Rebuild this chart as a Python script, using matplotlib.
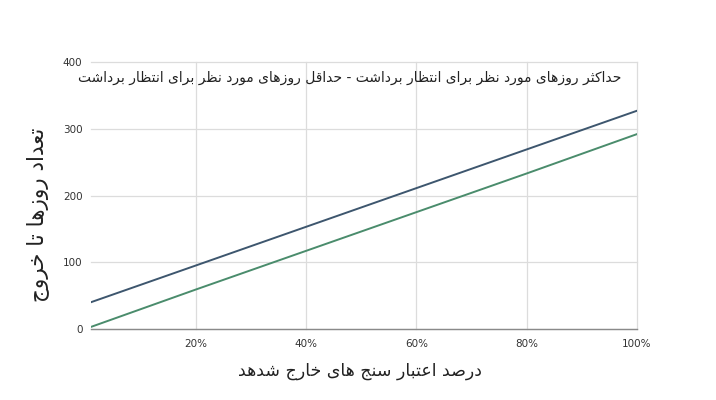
import matplotlib
matplotlib.use("Agg")
import matplotlib.pyplot as plt

# values (percent of exited validators -> days)
pct = [1, 20, 40, 60, 80, 100]
max_days = [40, 95, 153, 211, 269, 327]
min_days = [3, 59, 117, 175, 233, 292]
x_ticks = [20, 40, 60, 80, 100]
x_tick_labels = ["20%", "40%", "60%", "80%", "100%"]
y_ticks = [0, 100, 200, 300, 400]

title_text = "حداکثر روزهای مورد نظر برای انتظار برداشت - حداقل روزهای مورد نظر برای انتظار برداشت"
y_label = "تعداد روزها تا خروج"
x_label = "درصد اعتبار سنج های خارج شدهد"

# ── minimal Persian shaping: contextual forms + right-to-left order ──────────
# letter: (isolated, final, initial, medial); two entries = joins on right only
FORMS = {
    "ا": (0xFE8D, 0xFE8E), "د": (0xFEA9, 0xFEAA), "ذ": (0xFEAB, 0xFEAC),
    "ر": (0xFEAD, 0xFEAE), "ز": (0xFEAF, 0xFEB0), "ژ": (0xFB8A, 0xFB8B),
    "و": (0xFEED, 0xFEEE),
    "ب": (0xFE8F, 0xFE90, 0xFE91, 0xFE92), "پ": (0xFB56, 0xFB57, 0xFB58, 0xFB59),
    "ت": (0xFE95, 0xFE96, 0xFE97, 0xFE98), "ث": (0xFE99, 0xFE9A, 0xFE9B, 0xFE9C),
    "ج": (0xFE9D, 0xFE9E, 0xFE9F, 0xFEA0), "چ": (0xFB7A, 0xFB7B, 0xFB7C, 0xFB7D),
    "ح": (0xFEA1, 0xFEA2, 0xFEA3, 0xFEA4), "خ": (0xFEA5, 0xFEA6, 0xFEA7, 0xFEA8),
    "س": (0xFEB1, 0xFEB2, 0xFEB3, 0xFEB4), "ش": (0xFEB5, 0xFEB6, 0xFEB7, 0xFEB8),
    "ص": (0xFEB9, 0xFEBA, 0xFEBB, 0xFEBC), "ض": (0xFEBD, 0xFEBE, 0xFEBF, 0xFEC0),
    "ط": (0xFEC1, 0xFEC2, 0xFEC3, 0xFEC4), "ظ": (0xFEC5, 0xFEC6, 0xFEC7, 0xFEC8),
    "ع": (0xFEC9, 0xFECA, 0xFECB, 0xFECC), "غ": (0xFECD, 0xFECE, 0xFECF, 0xFED0),
    "ف": (0xFED1, 0xFED2, 0xFED3, 0xFED4), "ق": (0xFED5, 0xFED6, 0xFED7, 0xFED8),
    "ک": (0xFB8E, 0xFB8F, 0xFB90, 0xFB91), "گ": (0xFB92, 0xFB93, 0xFB94, 0xFB95),
    "ل": (0xFEDD, 0xFEDE, 0xFEDF, 0xFEE0), "م": (0xFEE1, 0xFEE2, 0xFEE3, 0xFEE4),
    "ن": (0xFEE5, 0xFEE6, 0xFEE7, 0xFEE8), "ه": (0xFEE9, 0xFEEA, 0xFEEB, 0xFEEC),
    "ی": (0xFBFC, 0xFBFD, 0xFBFE, 0xFBFF),
}


def shape(text):
    out = []
    n = len(text)
    for i, ch in enumerate(text):
        f = FORMS.get(ch)
        if f is None:
            out.append(ch)
            continue
        prev = text[i - 1] if i > 0 else ""
        nxt = text[i + 1] if i < n - 1 else ""
        join_prev = prev in FORMS and len(FORMS[prev]) == 4
        join_next = nxt in FORMS and len(f) == 4
        if join_prev and join_next:
            code = f[3]
        elif join_prev:
            code = f[1]
        elif join_next:
            code = f[2]
        else:
            code = f[0]
        out.append(chr(code))
    return "".join(reversed(out))


plt.rcParams["font.family"] = ["DejaVu Sans"]

fig = plt.figure(figsize=(7.16, 4.0), dpi=100)
ax = fig.add_axes([0.1267, 0.1775, 0.7630, 0.6675])

ax.plot(pct, max_days, color="#3d566e", lw=1.4, zorder=3)
ax.plot(pct, min_days, color="#4a8c6c", lw=1.4, zorder=3)

ax.set_xlim(1, 100)
ax.set_ylim(0, 400)
ax.set_xticks(x_ticks)
ax.set_xticklabels(x_tick_labels)
ax.set_yticks(y_ticks)
ax.grid(True, color="#dcdcdc", lw=0.9)
ax.set_axisbelow(True)
# keep the edge grid lines (100% and 400) fully drawn
for gl in ax.get_xgridlines() + ax.get_ygridlines():
    gl.set_clip_on(False)
for side in ["top", "right", "left"]:
    ax.spines[side].set_visible(False)
ax.spines["bottom"].set_color("#8a8a8a")
ax.spines["bottom"].set_linewidth(1.0)
ax.tick_params(length=0, labelsize=7.5, labelcolor="#333333")
ax.tick_params(axis="y", pad=6)
ax.tick_params(axis="x", pad=7)

fig.text(0.489, 0.805, shape(title_text), ha="center", va="center",
         fontsize=10, color="#222222")
fig.text(0.052, 0.4625, shape(y_label), ha="center", va="center",
         rotation=90, fontsize=15.5, color="#222222")
fig.text(0.503, 0.073, shape(x_label), ha="center", va="center",
         fontsize=12.5, color="#222222")

fig.savefig("out.png", dpi=100)
